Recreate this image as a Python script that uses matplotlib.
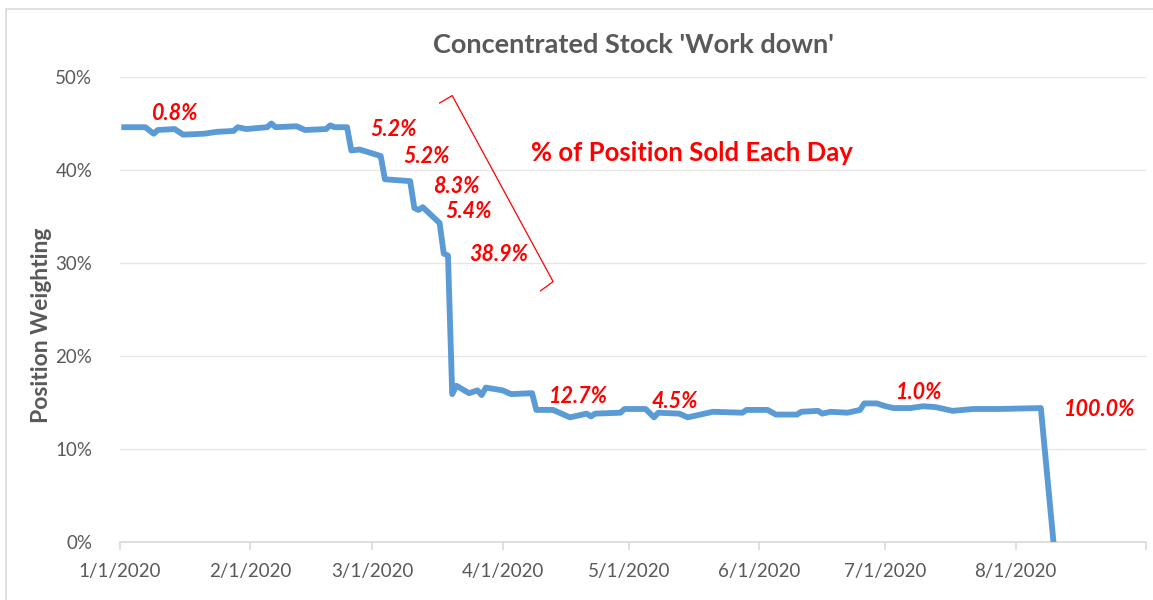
import pandas as pd
import matplotlib.pyplot as plt
from matplotlib.ticker import FuncFormatter
from matplotlib.patches import Rectangle

plt.rcParams['font.family'] = ['Lato', 'DejaVu Sans']

# position weighting (%)
dates = ["2020-01-02", "2020-01-07", "2020-01-09", "2020-01-10", "2020-01-14", "2020-01-16",
         "2020-01-21", "2020-01-24", "2020-01-28", "2020-01-29", "2020-01-31", "2020-02-05",
         "2020-02-06", "2020-02-07", "2020-02-12", "2020-02-14", "2020-02-19", "2020-02-20",
         "2020-02-21", "2020-02-24", "2020-02-25", "2020-02-27", "2020-03-03", "2020-03-04",
         "2020-03-10", "2020-03-11", "2020-03-12", "2020-03-13", "2020-03-17", "2020-03-18",
         "2020-03-19", "2020-03-20", "2020-03-21", "2020-03-24", "2020-03-26", "2020-03-27",
         "2020-03-28", "2020-04-01", "2020-04-03", "2020-04-08", "2020-04-09", "2020-04-13",
         "2020-04-17", "2020-04-21", "2020-04-22", "2020-04-23", "2020-04-29", "2020-04-30",
         "2020-05-05", "2020-05-07", "2020-05-08", "2020-05-13", "2020-05-15", "2020-05-21",
         "2020-05-28", "2020-05-29", "2020-06-03", "2020-06-05", "2020-06-10", "2020-06-11",
         "2020-06-15", "2020-06-16", "2020-06-18", "2020-06-22", "2020-06-25", "2020-06-26",
         "2020-06-29", "2020-07-01", "2020-07-03", "2020-07-07", "2020-07-10", "2020-07-13",
         "2020-07-17", "2020-07-22", "2020-07-28", "2020-08-07", "2020-08-10"]
weights = [44.6, 44.6, 43.9, 44.3, 44.4, 43.8,
           43.9, 44.1, 44.2, 44.6, 44.4, 44.6,
           45.0, 44.6, 44.7, 44.3, 44.4, 44.8,
           44.6, 44.6, 42.1, 42.2, 41.5, 39.0,
           38.8, 35.9, 35.7, 36.0, 34.3, 31.0,
           30.8, 15.9, 16.8, 16.0, 16.3, 15.8,
           16.6, 16.3, 15.9, 16.0, 14.2, 14.2,
           13.4, 13.8, 13.5, 13.8, 13.9, 14.3,
           14.3, 13.4, 13.9, 13.8, 13.4, 14.0,
           13.9, 14.2, 14.2, 13.7, 13.7, 14.0,
           14.1, 13.8, 14.0, 13.9, 14.2, 14.9,
           14.9, 14.6, 14.4, 14.4, 14.6, 14.5,
           14.1, 14.3, 14.3, 14.4, 0.0]

# "% sold" labels: text, date, level
sold_labels = ["0.8%", "5.2%", "5.2%", "8.3%", "5.4%", "38.9%", "12.7%", "4.5%", "1.0%", "100.0%"]
sold_dates = ["2020-01-14", "2020-03-06", "2020-03-14", "2020-03-21", "2020-03-24",
              "2020-03-31", "2020-04-19", "2020-05-12", "2020-07-09", "2020-08-21"]
sold_levels = [46.1, 44.3, 41.4, 38.2, 35.5, 30.9, 15.6, 15.1, 16.1, 14.2]

x = pd.to_datetime(dates)
y = [w / 100 for w in weights]

fig = plt.figure(figsize=(11.53, 6), dpi=100)
ax = fig.add_axes([0.1041, 0.0967, 0.8898, 0.775])

# light frame around the chart
fig.patches.append(Rectangle((0.005, -0.05), 1.2, 1.035, transform=fig.transFigure,
                             fill=False, edgecolor='#d9d9d9', linewidth=1.2))

ax.plot(x, y, color='#5b9bd5', linewidth=4.2, solid_joinstyle='round', zorder=3)

ax.set_xlim(pd.Timestamp("2020-01-01"), pd.Timestamp("2020-09-01"))
ax.set_ylim(0, 0.5)
ax.set_yticks([0, 0.1, 0.2, 0.3, 0.4, 0.5])
ax.yaxis.set_major_formatter(FuncFormatter(lambda v, p: f"{v*100:.0f}%"))
ax.set_xticks(pd.date_range("2020-01-01", "2020-09-01", freq="MS"))
ax.set_xticklabels([f"{m}/1/2020" for m in range(1, 9)] + [""])

ax.grid(axis='y', color='#e6e6e6', linewidth=1)
ax.set_axisbelow(True)
for s in ['top', 'right', 'left']:
    ax.spines[s].set_visible(False)
ax.spines['bottom'].set_color('#d9d9d9')
ax.spines['bottom'].set_linewidth(1.2)
ax.tick_params(axis='x', length=6, color='#d9d9d9', width=1.2, labelcolor='#595959',
               labelsize=13.5, pad=9)
ax.tick_params(axis='y', length=0, labelsize=13.5, labelcolor='#595959', pad=20)

ax.set_title("Concentrated Stock 'Work down'", fontsize=19.5, fontweight='bold',
             color='#595959', pad=17)
ax.set_ylabel("Position Weighting", fontsize=16.5, fontweight='bold', color='#595959')
ax.yaxis.set_label_coords(-0.066, 0.465)

for t, d, lv in zip(sold_labels, sold_dates, sold_levels):
    ax.text(pd.Timestamp(d), lv / 100, t, color='red', fontsize=15.5, fontweight='bold',
            fontstyle='italic', ha='center', va='center')

ax.text(pd.Timestamp("2020-05-16"), 0.418, "% of Position Sold Each Day", color='red',
        fontsize=18.5, fontweight='bold', ha='center', va='center')

# bracket next to the March selling
bx = pd.to_datetime(["2020-03-17", "2020-03-20", "2020-04-13", "2020-04-10"])
ax.plot(bx, [0.472, 0.48, 0.28, 0.27], color='red', linewidth=0.9, clip_on=False)

fig.savefig("out.png", dpi=100)
